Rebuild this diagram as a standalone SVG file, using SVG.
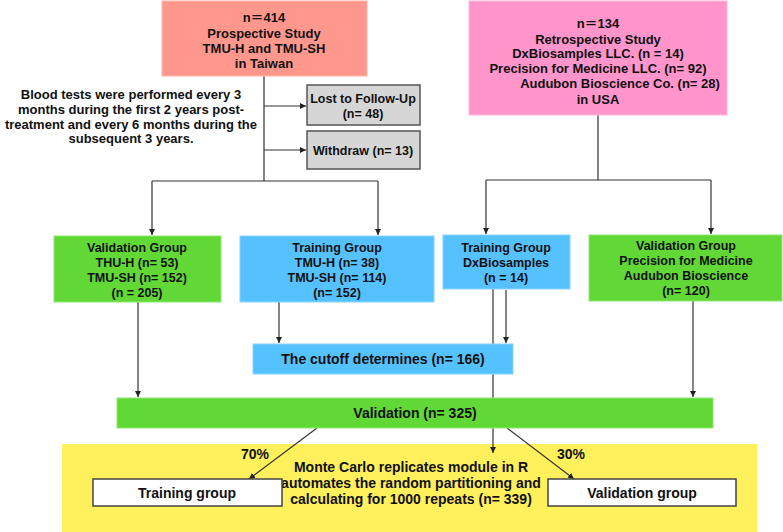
<svg xmlns="http://www.w3.org/2000/svg" width="783" height="532" viewBox="0 0 783 532">
<style>
text{font-family:"Liberation Sans","Noto Sans CJK TC",Arial,sans-serif;font-weight:bold;fill:#111;text-anchor:middle;dominant-baseline:central}
.t13{font-size:13px}
.t12{font-size:12.5px}
.t14{font-size:14px}
.ln{stroke:#333;stroke-width:1.2;fill:none}
.ar{marker-end:url(#ah)}
.salmon{fill:#FF978C;stroke:#FFB3AA;stroke-width:1}
.pink{fill:#FF95CB;stroke:#FFB5DA;stroke-width:1}
.green{fill:#61D836;stroke:#8EE86E;stroke-width:1}
.blue{fill:#56C1FF;stroke:#8AD4FF;stroke-width:1}
.gray{fill:#D6D6D6;stroke:#555;stroke-width:1.5}
.white{fill:#fff;stroke:#444;stroke-width:1.5}
.yellow{fill:#FFF05C}
</style>
<defs>
<marker id="ah" markerUnits="userSpaceOnUse" markerWidth="7" markerHeight="6" refX="6" refY="3" orient="auto">
<path d="M0,0 L6,3 L0,6 z" fill="#222"/>
</marker>
</defs>
<rect width="783" height="532" fill="#fff"/>
<g id="montecarlo">
<rect class="yellow" x="62" y="444" width="695" height="88"/>
<text class="t14" x="411" y="467">Monte Carlo replicates module in R</text>
<text class="t14" x="411" y="483">automates the random partitioning and</text>
<text class="t14" x="411" y="499">calculating for 1000 repeats (n= 339)</text>
<text class="t14" x="255" y="454">70%</text>
<text class="t14" x="571" y="454">30%</text>
</g>
<g id="connectors">
<path class="ln" d="M264,76 V181 M152,181 H378"/>
<path class="ln ar" d="M152,181 V235"/>
<path class="ln ar" d="M378,181 V235"/>
<path class="ln ar" d="M264,106 H306"/>
<path class="ln ar" d="M264,150 H306"/>
<path class="ln" d="M598,115 V180 M486,180 H711"/>
<path class="ln ar" d="M486,180 V234"/>
<path class="ln ar" d="M711,180 V234"/>
<path class="ln ar" d="M138,302 V397"/>
<path class="ln ar" d="M279,302 V343"/>
<path class="ln ar" d="M506,290 V343"/>
<path class="ln ar" d="M493,289 V453"/>
<path class="ln ar" d="M693,301 V397"/>
<path class="ln ar" d="M317,428 L249,479"/>
<path class="ln ar" d="M507,428 L574,479"/>
</g>
<g id="prospective">
<rect class="salmon" x="162" y="1" width="205" height="75"/>
<text class="t13" x="264" y="17">n＝414</text>
<text class="t13" x="264" y="33">Prospective Study</text>
<text class="t13" x="264" y="48">TMU-H and TMU-SH</text>
<text class="t13" x="264" y="63">in Taiwan</text>
</g>
<g id="note">
<text class="t13" x="131" y="94">Blood tests were performed every 3</text>
<text class="t13" x="131" y="109">months during the first 2 years post-</text>
<text class="t13" x="131" y="124">treatment and every 6 months during the</text>
<text class="t13" x="131" y="138">subsequent 3 years.</text>
</g>
<g id="lost">
<rect class="gray" x="307" y="85" width="113" height="40"/>
<text class="t12" x="363" y="99">Lost to Follow-Up</text>
<text class="t12" x="363" y="114">(n= 48)</text>
</g>
<g id="withdraw">
<rect class="gray" x="307" y="131" width="113" height="38"/>
<text class="t12" x="363" y="151">Withdraw (n= 13)</text>
</g>
<g id="retrospective">
<rect class="pink" x="469" y="1" width="258" height="114"/>
<text class="t13" x="598" y="23">n＝134</text>
<text class="t13" x="598" y="39">Retrospective Study</text>
<text class="t13" x="598" y="53">DxBiosamples LLC. (n = 14)</text>
<text class="t13" x="598" y="68">Precision for Medicine LLC. (n= 92)</text>
<text class="t13" x="620" y="83">Audubon Bioscience Co. (n= 28)</text>
<text class="t13" x="598" y="99">in USA</text>
</g>
<g id="validation-tw">
<rect class="green" x="54" y="236" width="167" height="66"/>
<text class="t12" x="137" y="248">Validation Group</text>
<text class="t12" x="137" y="263">THU-H (n= 53)</text>
<text class="t12" x="137" y="278">TMU-SH (n= 152)</text>
<text class="t12" x="137" y="293">(n = 205)</text>
</g>
<g id="training-tw">
<rect class="blue" x="240" y="236" width="194" height="66"/>
<text class="t12" x="337" y="248">Training Group</text>
<text class="t12" x="337" y="263">TMU-H (n= 38)</text>
<text class="t12" x="337" y="278">TMU-SH (n= 114)</text>
<text class="t12" x="337" y="293">(n= 152)</text>
</g>
<g id="training-us">
<rect class="blue" x="443" y="235" width="127" height="54"/>
<text class="t12" x="506" y="248">Training Group</text>
<text class="t12" x="506" y="263">DxBiosamples</text>
<text class="t12" x="506" y="278">(n = 14)</text>
</g>
<g id="validation-us">
<rect class="green" x="589" y="235" width="193" height="66"/>
<text class="t12" x="686" y="246">Validation Group</text>
<text class="t12" x="686" y="261">Precision for Medicine</text>
<text class="t12" x="686" y="276">Audubon Bioscience</text>
<text class="t12" x="686" y="291">(n= 120)</text>
</g>
<g id="cutoff">
<rect class="blue" x="253" y="344" width="260" height="30"/>
<text class="t14" x="383" y="359">The cutoff determines (n= 166)</text>
</g>
<g id="validation">
<rect class="green" x="117" y="398" width="596" height="30"/>
<text class="t14" x="415" y="413">Validation (n= 325)</text>
</g>
<g id="training-group">
<rect class="white" x="93" y="479" width="189" height="27"/>
<text class="t14" x="187" y="493">Training group</text>
</g>
<g id="validation-group">
<rect class="white" x="548" y="479" width="188" height="27"/>
<text class="t14" x="642" y="493">Validation group</text>
</g>
</svg>
